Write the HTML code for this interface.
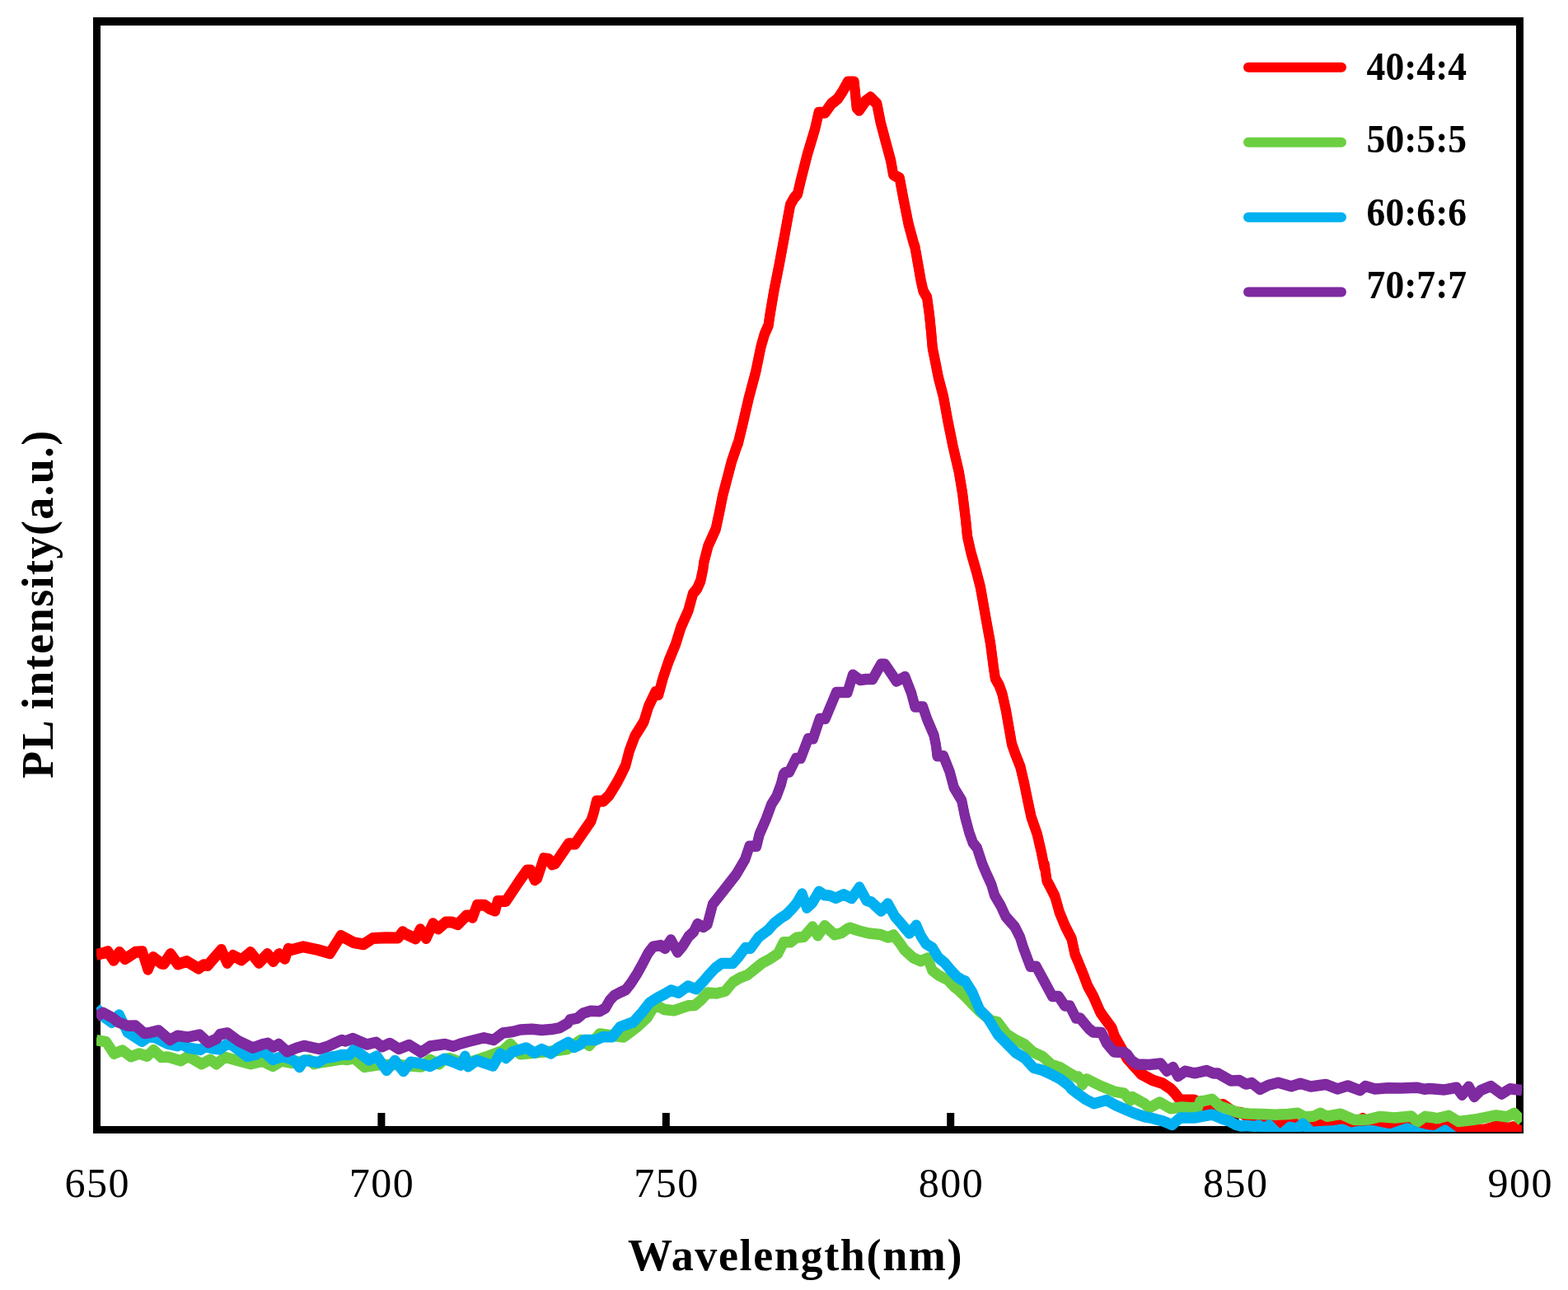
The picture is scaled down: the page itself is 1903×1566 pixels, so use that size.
<!DOCTYPE html>
<html><head><meta charset="utf-8"><style>
html,body{margin:0;padding:0;background:#fff;}
svg{display:block;}
text{font-family:"Liberation Serif","Times New Roman",serif;fill:#000;}
.tk{font-size:50px;letter-spacing:1.5px;}
.lg{font-size:48px;font-weight:bold;}
.ax{font-size:54px;font-weight:bold;letter-spacing:1.65px;}
</style></head><body>
<svg width="1903" height="1566" viewBox="0 0 1903 1566">
<defs><clipPath id="c"><rect x="117" y="0" width="1730" height="1374"/></clipPath></defs>
<rect x="113" y="21" width="1736" height="10" fill="#000"/>
<rect x="113" y="1367" width="1736" height="9" fill="#000"/>
<rect x="113" y="21" width="9" height="1355" fill="#000"/>
<rect x="1840" y="21" width="9" height="1355" fill="#000"/>
<rect x="458.4" y="1351" width="9" height="16" fill="#000"/><rect x="803.8" y="1351" width="9" height="16" fill="#000"/><rect x="1149.2" y="1351" width="9" height="16" fill="#000"/><rect x="1494.6" y="1351" width="9" height="16" fill="#000"/>
<g clip-path="url(#c)" fill="none" stroke-width="12" stroke-linejoin="round" stroke-linecap="butt">
<g stroke="#FF0000"><polyline points="117.0,1158.0 124.9,1156.2 130.9,1154.2 138.0,1164.8 144.9,1155.0 151.7,1163.0 158.0,1159.2 164.3,1154.8 172.7,1154.2 179.5,1175.8 185.8,1161.0 195.8,1168.5 199.0,1169.0 206.9,1157.1 215.8,1169.5 226.8,1166.1 241.0,1174.6 247.3,1170.2 252.0,1171.0 268.6,1151.9 275.7,1167.9 282.8,1159.0 293.0,1164.4 304.0,1155.1 314.3,1167.9 324.5,1157.1 331.6,1166.0 338.7,1157.1 345.8,1162.8 349.8,1150.8 353.9,1152.0 368.1,1148.3 385.5,1152.0 400.4,1156.3 413.8,1134.9 428.8,1143.1 441.4,1145.3 452.5,1138.0 468.2,1137.2 483.2,1137.5 488.7,1130.2 491.6,1132.6 504.6,1138.4 510.1,1127.2 517.2,1138.0 525.5,1120.2 531.8,1126.5 541.0,1118.4 548.0,1118.4 555.5,1121.2 566.0,1110.5 570.0,1110.5 573.5,1112.8 579.0,1097.7 588.0,1097.7 594.0,1101.9 601.0,1104.6 604.0,1093.0 614.0,1093.0 630.0,1069.0 639.4,1055.6 644.0,1055.6 649.0,1067.2 652.0,1065.0 660.0,1041.1 666.0,1042.0 670.0,1048.4 674.0,1047.0 690.0,1023.3 698.0,1023.5 708.0,1009.0 717.4,995.4 720.7,985.2 724.0,971.4 732.2,971.4 739.5,964.2 748.5,949.4 753.9,939.2 759.1,928.4 763.8,910.5 770.5,892.6 776.1,883.7 781.5,874.8 787.0,856.9 795.5,839.0 799.1,842.3 804.7,821.8 811.6,801.4 820.0,781.0 826.4,760.5 835.4,740.1 841.0,719.7 846.1,713.5 850.2,704.3 853.4,689.0 854.2,682.0 859.5,661.6 868.7,641.2 873.1,620.7 877.2,600.3 882.5,579.9 887.9,559.4 894.8,539.0 895.7,537.4 901.9,511.8 909.0,481.2 917.2,450.5 923.5,419.9 927.9,404.5 932.5,394.3 934.8,379.0 939.4,351.8 945.5,321.2 951.2,290.5 956.8,259.9 959.1,247.6 963.7,239.4 968.0,234.3 971.6,219.0 979.9,186.3 989.1,155.6 993.7,135.7 1001.3,135.7 1009.0,125.0 1016.7,118.9 1022.8,109.7 1029.0,98.5 1036.6,98.5 1039.7,129.6 1042.7,132.8 1050.4,121.9 1056.5,117.3 1064.2,125.0 1068.8,148.0 1074.9,171.0 1081.1,194.0 1084.1,210.8 1091.8,215.4 1096.4,240.0 1102.5,270.6 1108.7,293.6 1110.5,299.0 1114.1,319.4 1117.7,339.9 1120.5,352.1 1125.1,360.3 1127.9,380.7 1130.0,401.2 1131.8,421.6 1135.9,442.0 1138.9,457.4 1144.8,479.7 1150.4,510.3 1156.6,541.0 1163.7,571.6 1168.0,597.2 1172.0,629.7 1174.0,650.1 1178.6,670.5 1184.5,691.0 1189.8,711.4 1193.4,731.8 1197.0,752.3 1202.0,779.7 1206.0,810.3 1207.9,822.6 1212.5,830.7 1216.3,841.0 1220.9,861.4 1224.4,881.8 1228.0,902.3 1232.2,914.3 1238.3,929.7 1243.1,950.1 1247.2,970.5 1251.6,991.0 1258.7,1011.4 1263.5,1031.8 1267.6,1052.3 1267.7,1049.0 1270.5,1068.2 1274.0,1074.5 1280.4,1087.3 1285.8,1106.5 1292.6,1123.1 1300.5,1138.4 1304.7,1157.6 1308.5,1166.5 1315.2,1183.1 1320.0,1195.9 1327.0,1208.6 1335.4,1227.8 1341.7,1236.7 1349.4,1247.0 1352.7,1256.9 1368.0,1284.0 1384.9,1302.7 1398.3,1310.1 1410.8,1314.1 1420.7,1320.8 1425.1,1325.3 1432.3,1334.4 1443.0,1334.4 1449.3,1334.4 1465.0,1343.0 1484.4,1340.0 1497.0,1349.0 1506.5,1350.0 1520.0,1357.0 1535.0,1359.0 1553.8,1361.6 1570.0,1360.5 1590.0,1360.8 1602.6,1364.0 1612.0,1366.0 1624.0,1364.0 1640.0,1367.0 1654.0,1357.0 1665.0,1367.0 1680.0,1366.0 1700.0,1366.0 1718.0,1367.0 1728.7,1366.3 1740.0,1367.0 1747.2,1370.8 1756.0,1366.0 1771.5,1372.6 1789.9,1370.1 1801.0,1370.8 1811.2,1367.9 1818.6,1365.3 1830.4,1369.0 1836.2,1367.1 1847.0,1373.0"/><polyline points="117.0,1160.0 124.9,1158.2 130.9,1156.2 138.0,1166.8 144.9,1157.0 151.7,1165.0 158.0,1161.2 164.3,1156.8 172.7,1156.2 179.5,1177.8 185.8,1163.0 195.8,1170.5 199.0,1171.0 206.9,1159.1 215.8,1171.5 226.8,1168.1 241.0,1176.6 247.3,1172.2 252.0,1173.0 268.6,1153.9 275.7,1169.9 282.8,1161.0 293.0,1166.4 304.0,1157.1 314.3,1169.9 324.5,1159.1 331.6,1168.0 338.7,1159.1 345.8,1164.8 349.8,1152.8 353.9,1154.0 368.1,1150.3 385.5,1154.0 400.4,1158.3 413.8,1136.9 428.8,1145.1 441.4,1147.3 452.5,1140.0 468.2,1139.2 483.2,1139.5 488.7,1132.2 491.6,1134.6 504.6,1140.4 510.1,1129.2 517.2,1140.0 525.5,1122.2 531.8,1128.5 541.0,1120.4 548.0,1120.4 555.5,1123.2 566.0,1112.5 570.0,1112.5 573.5,1114.8 579.0,1099.7 588.0,1099.7 594.0,1103.9 601.0,1106.6 604.0,1095.0 614.0,1095.0 630.0,1071.0 639.4,1057.6 644.0,1057.6 649.0,1069.2 652.0,1067.0 660.0,1043.1 666.0,1044.0 670.0,1050.4 674.0,1049.0 690.0,1025.3 698.0,1025.5 708.0,1011.0 717.4,997.4 720.7,987.2 724.0,973.4 732.2,973.4 739.5,966.2 748.5,951.4 753.9,941.2 759.1,930.4 763.8,912.5 770.5,894.6 776.1,885.7 781.5,876.8 787.0,858.9 795.5,841.0 799.1,844.3 804.7,823.8 811.6,803.4 820.0,783.0 826.4,762.5 835.4,742.1 841.0,721.7 846.1,715.5 850.2,706.3 853.4,691.0 854.2,684.0 859.5,663.6 868.7,643.2 873.1,622.7 877.2,602.3 882.5,581.9 887.9,561.4 894.8,541.0 895.7,539.4 901.9,513.8 909.0,483.2 917.2,452.5 923.5,421.9 927.9,406.5 932.5,396.3 934.8,381.0 939.4,353.8 945.5,323.2 951.2,292.5 956.8,261.9 959.1,249.6 963.7,241.4 968.0,236.3 971.6,221.0 979.9,188.3 989.1,157.6 993.7,137.7 1001.3,137.7 1009.0,127.0 1016.7,120.9 1022.8,111.7 1029.0,100.5 1036.6,100.5 1039.7,131.6 1042.7,134.8 1050.4,123.9 1056.5,119.3 1064.2,127.0 1068.8,150.0 1074.9,173.0 1081.1,196.0 1084.1,212.8 1091.8,217.4 1096.4,242.0 1102.5,272.6 1108.7,295.6 1110.5,301.0 1114.1,321.4 1117.7,341.9 1120.5,354.1 1125.1,362.3 1127.9,382.7 1130.0,403.2 1131.8,423.6 1135.9,444.0 1138.9,459.4 1144.8,481.7 1150.4,512.3 1156.6,543.0 1163.7,573.6 1168.0,599.2 1172.0,631.7 1174.0,652.1 1178.6,672.5 1184.5,693.0 1189.8,713.4 1193.4,733.8 1197.0,754.3 1202.0,781.7 1206.0,812.3 1207.9,824.6 1212.5,832.7 1216.3,843.0 1220.9,863.4 1224.4,883.8 1228.0,904.3 1232.2,916.3 1238.3,931.7 1243.1,952.1 1247.2,972.5 1251.6,993.0 1258.7,1013.4 1263.5,1033.8 1267.6,1054.3 1267.7,1051.0 1270.5,1070.2 1274.0,1076.5 1280.4,1089.3 1285.8,1108.5 1292.6,1125.1 1300.5,1140.4 1304.7,1159.6 1308.5,1168.5 1315.2,1185.1 1320.0,1197.9 1327.0,1210.6 1335.4,1229.8 1341.7,1238.7 1349.4,1249.0 1352.7,1258.9 1368.0,1286.0 1384.9,1304.7 1398.3,1312.1 1410.8,1316.1 1420.7,1322.8 1425.1,1327.3 1432.3,1336.4 1443.0,1336.4 1449.3,1336.4 1465.0,1345.0 1484.4,1342.0 1497.0,1351.0 1506.5,1352.0 1520.0,1359.0 1535.0,1361.0 1553.8,1363.6 1570.0,1362.5 1590.0,1362.8 1602.6,1366.0 1612.0,1368.0 1624.0,1366.0 1640.0,1369.0 1654.0,1359.0 1665.0,1369.0 1680.0,1368.0 1700.0,1368.0 1718.0,1369.0 1728.7,1368.3 1740.0,1369.0 1747.2,1372.8 1756.0,1368.0 1771.5,1374.6 1789.9,1372.1 1801.0,1372.8 1811.2,1369.9 1818.6,1367.3 1830.4,1371.0 1836.2,1369.1 1847.0,1375.0"/></g>
<g stroke="#6CCF41"><polyline points="117.0,1262.0 128.8,1264.0 138.3,1278.5 148.5,1274.2 158.8,1282.0 169.0,1278.2 178.5,1281.5 186.4,1273.8 195.8,1282.8 203.7,1282.2 219.5,1287.0 227.3,1282.0 233.7,1284.5 244.7,1291.0 254.9,1285.5 262.8,1291.0 272.9,1282.5 284.7,1285.7 304.4,1291.0 318.6,1287.5 331.2,1293.7 341.4,1287.3 354.1,1289.8 375.4,1285.8 380.9,1291.0 389.5,1289.0 402.9,1287.0 414.8,1285.0 421.8,1285.7 429.7,1283.8 442.3,1294.8 458.9,1292.0 480.9,1291.5 498.3,1293.2 511.7,1294.3 521.9,1285.5 533.0,1291.2 539.3,1285.2 545.6,1283.8 560.0,1289.2 575.0,1287.2 594.3,1280.7 610.2,1274.7 619.3,1266.5 631.5,1279.0 650.0,1277.2 673.2,1275.0 689.0,1272.7 704.8,1261.8 715.2,1268.5 727.8,1254.2 756.8,1258.3 772.0,1247.0 785.8,1234.3 792.8,1222.7 797.3,1220.0 806.2,1224.8 817.9,1226.0 835.8,1220.0 842.9,1219.8 850.1,1213.8 859.0,1204.2 869.7,1205.3 880.5,1202.2 889.4,1191.5 898.3,1186.2 907.3,1182.8 916.2,1175.5 925.2,1168.2 934.2,1163.5 944.0,1157.0 951.1,1143.0 959.5,1143.0 966.5,1137.5 975.6,1136.5 986.2,1124.3 992.5,1135.0 1000.9,1123.0 1012.9,1134.0 1021.3,1131.8 1028.3,1126.8 1031.5,1125.5 1041.8,1129.0 1054.5,1132.2 1068.9,1133.7 1077.5,1137.3 1084.4,1134.2 1091.8,1143.7 1097.6,1152.2 1108.3,1162.0 1117.5,1166.0 1125.9,1162.2 1131.3,1177.0 1139.0,1183.2 1150.5,1189.0 1158.1,1197.2 1162.4,1200.3 1171.3,1208.8 1178.5,1216.5 1189.2,1227.2 1202.6,1238.0 1210.9,1240.0 1221.7,1254.5 1232.6,1261.7 1243.4,1267.0 1254.3,1276.8 1265.2,1281.7 1276.0,1291.5 1286.9,1295.2 1297.7,1301.8 1300.0,1303.2 1307.2,1307.2 1308.6,1306.2 1312.9,1312.7 1313.4,1316.3 1318.3,1309.3 1319.7,1309.5 1335.8,1317.5 1353.6,1324.8 1364.4,1326.5 1371.5,1335.3 1374.2,1330.7 1389.4,1339.3 1394.8,1344.2 1407.3,1337.3 1420.7,1345.0 1434.1,1343.3 1445.0,1344.0 1453.5,1344.0 1456.5,1336.2 1460.8,1335.8 1471.0,1333.5 1480.5,1342.2 1492.3,1346.2 1504.1,1350.2 1516.0,1351.2 1531.7,1351.7 1547.5,1352.5 1563.2,1351.8 1575.0,1350.5 1583.7,1355.2 1594.8,1354.2 1602.6,1350.5 1610.5,1354.5 1627.0,1351.5 1643.6,1358.7 1660.9,1358.2 1675.1,1354.7 1692.5,1356.2 1713.0,1354.3 1720.1,1361.2 1729.5,1354.7 1729.6,1354.8 1739.8,1356.0 1743.5,1357.0 1758.3,1353.5 1770.0,1360.8 1782.5,1359.2 1793.6,1357.7 1815.6,1353.2 1828.9,1355.0 1837.7,1350.5 1847.0,1360.0"/><polyline points="117.0,1263.5 128.8,1265.5 138.3,1280.0 148.5,1275.7 158.8,1283.5 169.0,1279.8 178.5,1283.0 186.4,1275.3 195.8,1284.3 203.7,1283.7 219.5,1288.5 227.3,1283.5 233.7,1286.0 244.7,1292.5 254.9,1287.0 262.8,1292.5 272.9,1284.0 284.7,1287.2 304.4,1292.5 318.6,1289.0 331.2,1295.2 341.4,1288.8 354.1,1291.2 375.4,1287.2 380.9,1292.5 389.5,1290.5 402.9,1288.5 414.8,1286.5 421.8,1287.2 429.7,1285.3 442.3,1296.2 458.9,1293.5 480.9,1293.0 498.3,1294.7 511.7,1295.8 521.9,1287.0 533.0,1292.7 539.3,1286.8 545.6,1285.3 560.0,1290.8 575.0,1288.8 594.3,1282.2 610.2,1276.2 619.3,1268.0 631.5,1280.5 650.0,1278.8 673.2,1276.5 689.0,1274.2 704.8,1263.2 715.2,1270.0 727.8,1255.8 756.8,1259.8 772.0,1248.5 785.8,1235.8 792.8,1224.2 797.3,1221.5 806.2,1226.3 817.9,1227.5 835.8,1221.5 842.9,1221.3 850.1,1215.3 859.0,1205.8 869.7,1206.8 880.5,1203.8 889.4,1193.0 898.3,1187.7 907.3,1184.2 916.2,1177.0 925.2,1169.8 934.2,1165.0 944.0,1158.5 951.1,1144.5 959.5,1144.5 966.5,1139.0 975.6,1138.0 986.2,1125.8 992.5,1136.5 1000.9,1124.5 1012.9,1135.5 1021.3,1133.3 1028.3,1128.3 1031.5,1127.0 1041.8,1130.5 1054.5,1133.7 1068.9,1135.2 1077.5,1138.8 1084.4,1135.7 1091.8,1145.2 1097.6,1153.8 1108.3,1163.5 1117.5,1167.5 1125.9,1163.8 1131.3,1178.5 1139.0,1184.7 1150.5,1190.5 1158.1,1198.8 1162.4,1201.8 1171.3,1210.3 1178.5,1218.0 1189.2,1228.8 1202.6,1239.5 1210.9,1241.5 1221.7,1256.0 1232.6,1263.2 1243.4,1268.5 1254.3,1278.3 1265.2,1283.2 1276.0,1293.0 1286.9,1296.8 1297.7,1303.2 1300.0,1304.7 1307.2,1308.7 1308.6,1307.7 1312.9,1314.2 1313.4,1317.8 1318.3,1310.8 1319.7,1311.0 1335.8,1319.0 1353.6,1326.2 1364.4,1328.0 1371.5,1336.8 1374.2,1332.2 1389.4,1340.8 1394.8,1345.7 1407.3,1338.8 1420.7,1346.5 1434.1,1344.8 1445.0,1345.5 1453.5,1345.5 1456.5,1337.8 1460.8,1337.2 1471.0,1335.0 1480.5,1343.7 1492.3,1347.8 1504.1,1351.8 1516.0,1352.8 1531.7,1353.2 1547.5,1354.0 1563.2,1353.3 1575.0,1352.0 1583.7,1356.8 1594.8,1355.7 1602.6,1352.0 1610.5,1356.0 1627.0,1353.0 1643.6,1360.2 1660.9,1359.8 1675.1,1356.2 1692.5,1357.8 1713.0,1355.8 1720.1,1362.8 1729.5,1356.2 1729.6,1356.3 1739.8,1357.5 1743.5,1358.5 1758.3,1355.0 1770.0,1362.2 1782.5,1360.7 1793.6,1359.2 1815.6,1354.8 1828.9,1356.5 1837.7,1352.0 1847.0,1361.5"/></g>
<g stroke="#00B0F0"><polyline points="117.0,1223.3 127.2,1234.2 135.9,1240.5 144.6,1231.2 154.8,1252.3 172.2,1263.5 180.1,1258.0 188.0,1258.8 203.7,1266.5 215.5,1269.0 219.5,1266.5 229.0,1271.3 243.1,1273.7 249.4,1269.8 258.9,1272.2 266.8,1273.0 274.5,1267.2 280.8,1267.2 300.5,1281.8 312.3,1278.8 318.6,1274.3 330.8,1285.8 342.5,1281.8 351.7,1284.2 358.0,1287.2 363.6,1294.8 369.0,1286.2 386.0,1289.0 395.0,1283.5 406.9,1281.8 414.8,1279.8 424.2,1279.8 429.7,1272.8 447.8,1286.2 457.3,1281.3 469.1,1298.7 479.4,1286.8 489.6,1299.8 498.3,1288.5 509.3,1290.0 521.9,1293.7 539.3,1284.5 550.3,1288.5 559.0,1292.3 564.5,1281.5 568.0,1294.0 578.6,1286.5 598.4,1293.2 607.0,1278.3 614.1,1283.7 622.0,1276.2 638.5,1271.2 648.8,1277.5 657.5,1272.8 668.5,1278.2 677.2,1271.2 689.8,1264.5 696.9,1270.8 704.8,1266.8 708.9,1261.8 722.8,1261.8 731.6,1258.0 743.0,1258.0 752.6,1245.8 768.7,1240.0 779.4,1228.0 788.4,1216.5 797.3,1210.8 806.2,1206.2 814.3,1201.3 823.7,1204.5 834.9,1196.2 844.7,1200.0 853.6,1190.7 860.8,1182.2 867.9,1174.5 876.0,1168.7 889.4,1168.7 896.5,1160.7 904.6,1149.8 910.9,1150.5 920.7,1137.0 929.6,1130.2 932.1,1128.5 939.1,1120.5 947.6,1113.7 954.6,1109.2 961.6,1102.0 966.5,1096.2 973.5,1084.3 979.2,1101.2 986.2,1094.8 993.9,1081.5 1000.2,1085.8 1007.2,1086.5 1014.3,1089.5 1024.1,1085.0 1025.7,1086.0 1033.8,1089.7 1043.0,1076.3 1051.6,1092.2 1057.4,1094.2 1069.4,1105.2 1077.5,1096.2 1086.1,1111.8 1091.8,1118.2 1097.6,1125.2 1103.7,1132.3 1112.1,1122.5 1117.5,1135.2 1123.6,1144.8 1131.3,1149.5 1139.0,1162.0 1146.6,1168.2 1154.3,1177.3 1162.0,1185.5 1168.1,1189.2 1171.3,1190.0 1180.2,1204.0 1189.2,1225.3 1198.1,1234.3 1202.2,1240.7 1210.9,1255.0 1221.7,1266.0 1232.6,1277.0 1243.4,1283.5 1254.3,1295.5 1265.2,1298.5 1276.0,1303.5 1286.9,1309.3 1297.7,1317.5 1300.0,1321.0 1308.9,1327.8 1317.9,1334.0 1327.7,1339.0 1342.9,1334.8 1353.6,1340.8 1362.6,1344.8 1376.0,1350.5 1389.4,1355.0 1398.3,1356.8 1411.7,1360.3 1422.5,1364.7 1432.3,1356.3 1449.3,1356.3 1471.0,1352.2 1482.8,1357.2 1490.7,1359.7 1500.2,1364.8 1507.0,1366.2 1512.0,1365.8 1523.8,1366.7 1527.8,1365.2 1533.3,1369.8 1540.4,1365.2 1553.0,1377.8 1565.6,1367.5 1573.5,1369.8 1581.4,1363.5 1592.4,1374.5 1597.0,1373.2 1619.2,1372.0 1629.4,1370.5 1638.9,1374.8 1648.3,1372.8 1664.9,1372.0 1687.0,1376.5 1708.2,1369.3 1719.3,1374.0 1731.9,1377.2 1742.0,1378.2 1754.0,1371.5 1767.0,1381.2 1790.0,1382.2 1847.0,1382.2"/><polyline points="117.0,1224.8 127.2,1235.8 135.9,1242.0 144.6,1232.8 154.8,1253.8 172.2,1265.0 180.1,1259.5 188.0,1260.2 203.7,1268.0 215.5,1270.5 219.5,1268.0 229.0,1272.8 243.1,1275.2 249.4,1271.2 258.9,1273.7 266.8,1274.5 274.5,1268.8 280.8,1268.8 300.5,1283.3 312.3,1280.2 318.6,1275.8 330.8,1287.2 342.5,1283.3 351.7,1285.8 358.0,1288.8 363.6,1296.3 369.0,1287.8 386.0,1290.5 395.0,1285.0 406.9,1283.3 414.8,1281.3 424.2,1281.2 429.7,1274.2 447.8,1287.7 457.3,1282.8 469.1,1300.2 479.4,1288.3 489.6,1301.3 498.3,1290.0 509.3,1291.5 521.9,1295.2 539.3,1286.0 550.3,1290.0 559.0,1293.8 564.5,1283.0 568.0,1295.5 578.6,1288.0 598.4,1294.7 607.0,1279.8 614.1,1285.2 622.0,1277.8 638.5,1272.7 648.8,1279.0 657.5,1274.2 668.5,1279.7 677.2,1272.8 689.8,1266.0 696.9,1272.2 704.8,1268.3 708.9,1263.2 722.8,1263.2 731.6,1259.5 743.0,1259.5 752.6,1247.2 768.7,1241.5 779.4,1229.5 788.4,1218.0 797.3,1212.2 806.2,1207.8 814.3,1202.8 823.7,1206.0 834.9,1197.7 844.7,1201.5 853.6,1192.2 860.8,1183.7 867.9,1176.0 876.0,1170.2 889.4,1170.2 896.5,1162.2 904.6,1151.2 910.9,1152.0 920.7,1138.5 929.6,1131.8 932.1,1130.0 939.1,1122.0 947.6,1115.2 954.6,1110.8 961.6,1103.5 966.5,1097.8 973.5,1085.8 979.2,1102.8 986.2,1096.3 993.9,1083.0 1000.2,1087.2 1007.2,1088.0 1014.3,1091.0 1024.1,1086.5 1025.7,1087.5 1033.8,1091.2 1043.0,1077.8 1051.6,1093.8 1057.4,1095.8 1069.4,1106.8 1077.5,1097.8 1086.1,1113.2 1091.8,1119.7 1097.6,1126.8 1103.7,1133.8 1112.1,1124.0 1117.5,1136.8 1123.6,1146.3 1131.3,1151.0 1139.0,1163.5 1146.6,1169.7 1154.3,1178.8 1162.0,1187.0 1168.1,1190.8 1171.3,1191.5 1180.2,1205.5 1189.2,1226.8 1198.1,1235.8 1202.2,1242.2 1210.9,1256.5 1221.7,1267.5 1232.6,1278.5 1243.4,1285.0 1254.3,1297.0 1265.2,1300.0 1276.0,1305.0 1286.9,1310.8 1297.7,1319.0 1300.0,1322.5 1308.9,1329.2 1317.9,1335.5 1327.7,1340.5 1342.9,1336.3 1353.6,1342.2 1362.6,1346.2 1376.0,1352.0 1389.4,1356.5 1398.3,1358.2 1411.7,1361.8 1422.5,1366.2 1432.3,1357.8 1449.3,1357.8 1471.0,1353.8 1482.8,1358.7 1490.7,1361.2 1500.2,1366.2 1507.0,1367.8 1512.0,1367.2 1523.8,1368.2 1527.8,1366.7 1533.3,1371.3 1540.4,1366.7 1553.0,1379.2 1565.6,1369.0 1573.5,1371.3 1581.4,1365.0 1592.4,1376.0 1597.0,1374.8 1619.2,1373.5 1629.4,1372.0 1638.9,1376.3 1648.3,1374.3 1664.9,1373.5 1687.0,1378.0 1708.2,1370.8 1719.3,1375.5 1731.9,1378.8 1742.0,1379.8 1754.0,1373.0 1767.0,1382.8 1790.0,1383.8 1847.0,1383.8"/></g>
<g stroke="#7F2AA0"><polyline points="117.0,1233.5 124.9,1228.5 136.7,1234.8 143.0,1240.0 154.8,1244.5 164.3,1244.2 175.3,1253.7 182.4,1252.7 192.7,1250.2 206.1,1261.8 215.5,1256.5 227.3,1258.3 242.3,1255.3 252.6,1265.0 262.8,1260.3 266.8,1255.0 276.0,1253.2 289.4,1263.0 306.8,1271.2 320.2,1266.5 324.9,1265.5 332.0,1270.2 338.3,1266.7 348.6,1276.0 359.6,1271.5 369.0,1268.7 387.2,1272.7 399.0,1269.0 406.9,1265.3 414.8,1261.8 419.5,1263.2 428.1,1259.8 445.5,1267.2 456.5,1264.5 463.6,1270.0 473.0,1265.7 484.1,1272.7 496.7,1267.7 510.9,1276.7 522.0,1269.3 540.0,1266.8 550.3,1269.5 558.2,1266.5 569.2,1263.5 587.3,1259.0 599.1,1261.8 610.2,1253.2 622.0,1251.8 631.5,1249.2 645.6,1248.5 657.5,1249.8 669.3,1248.8 679.5,1246.8 689.0,1241.3 691.8,1237.2 700.7,1235.3 707.9,1229.2 716.8,1226.5 727.6,1227.0 734.7,1223.0 740.1,1213.5 745.4,1207.8 752.6,1204.0 759.7,1200.7 766.0,1192.5 773.2,1181.2 779.4,1170.0 786.6,1156.2 792.8,1148.3 801.8,1146.8 807.2,1150.7 814.3,1140.2 822.3,1155.2 828.6,1147.7 835.8,1136.0 842.0,1130.2 846.5,1120.8 853.6,1124.8 858.6,1121.2 865.0,1097.0 874.7,1084.8 884.1,1072.8 893.5,1060.7 904.2,1042.5 909.6,1026.5 918.1,1026.5 921.7,1012.0 929.6,993.9 936.3,975.6 942.4,966.0 947.8,951.4 950.9,939.2 952.6,937.2 958.0,936.2 966.2,919.8 971.8,919.8 980.8,896.0 986.8,896.0 994.9,871.8 1001.6,871.8 1015.0,839.8 1028.6,839.8 1035.0,818.5 1044.0,824.8 1051.3,823.8 1059.0,823.8 1069.3,805.5 1074.0,805.5 1088.0,826.2 1098.3,820.8 1106.0,840.4 1110.5,857.2 1120.0,857.2 1125.1,872.2 1133.4,891.5 1136.0,904.2 1137.5,917.0 1145.0,917.0 1152.6,936.1 1157.7,955.2 1159.6,958.5 1167.2,971.1 1171.1,990.4 1176.2,1009.5 1180.7,1022.2 1185.8,1028.7 1192.1,1047.8 1197.5,1060.5 1203.3,1073.3 1207.1,1086.2 1214.5,1098.8 1220.5,1111.7 1231.7,1124.5 1238.1,1137.2 1241.8,1149.2 1250.5,1172.5 1257.6,1172.5 1277.1,1208.7 1284.7,1208.7 1292.3,1220.3 1298.3,1220.3 1305.9,1235.2 1310.8,1235.2 1321.5,1248.0 1326.8,1252.2 1336.8,1252.8 1342.9,1265.2 1348.3,1271.8 1352.0,1276.2 1364.4,1276.8 1368.0,1279.2 1373.3,1286.7 1380.0,1291.2 1394.6,1291.8 1408.6,1290.3 1416.2,1299.5 1423.8,1294.8 1429.6,1305.7 1438.6,1299.5 1449.3,1302.0 1452.9,1301.5 1464.3,1298.8 1472.6,1302.3 1478.1,1302.3 1493.9,1311.2 1504.1,1310.8 1512.0,1315.3 1519.1,1313.8 1529.3,1321.7 1539.6,1316.5 1551.4,1313.5 1567.2,1318.0 1578.2,1314.5 1590.8,1318.2 1608.9,1315.7 1623.1,1321.2 1635.7,1317.2 1650.7,1323.0 1657.0,1317.8 1668.8,1321.3 1684.6,1320.0 1700.3,1320.2 1720.1,1319.5 1728.7,1321.5 1734.7,1320.7 1738.2,1321.0 1753.1,1322.2 1767.8,1319.5 1774.4,1328.5 1782.5,1318.5 1789.2,1330.7 1797.2,1322.8 1809.4,1317.8 1822.3,1327.3 1832.6,1321.0 1847.0,1322.8"/><polyline points="117.0,1235.0 124.9,1230.0 136.7,1236.2 143.0,1241.5 154.8,1246.0 164.3,1245.8 175.3,1255.2 182.4,1254.2 192.7,1251.7 206.1,1263.3 215.5,1258.0 227.3,1259.8 242.3,1256.8 252.6,1266.5 262.8,1261.8 266.8,1256.5 276.0,1254.8 289.4,1264.5 306.8,1272.8 320.2,1268.0 324.9,1267.0 332.0,1271.8 338.3,1268.2 348.6,1277.5 359.6,1273.0 369.0,1270.2 387.2,1274.2 399.0,1270.5 406.9,1266.8 414.8,1263.3 419.5,1264.8 428.1,1261.2 445.5,1268.8 456.5,1266.0 463.6,1271.5 473.0,1267.2 484.1,1274.2 496.7,1269.2 510.9,1278.2 522.0,1270.8 540.0,1268.2 550.3,1271.0 558.2,1268.0 569.2,1265.0 587.3,1260.5 599.1,1263.2 610.2,1254.7 622.0,1253.3 631.5,1250.8 645.6,1250.0 657.5,1251.3 669.3,1250.3 679.5,1248.3 689.0,1242.8 691.8,1238.7 700.7,1236.8 707.9,1230.8 716.8,1228.0 727.6,1228.5 734.7,1224.5 740.1,1215.0 745.4,1209.2 752.6,1205.5 759.7,1202.2 766.0,1194.0 773.2,1182.8 779.4,1171.5 786.6,1157.7 792.8,1149.8 801.8,1148.3 807.2,1152.2 814.3,1141.8 822.3,1156.7 828.6,1149.2 835.8,1137.5 842.0,1131.8 846.5,1122.3 853.6,1126.2 858.6,1122.8 865.0,1098.5 874.7,1086.3 884.1,1074.2 893.5,1062.2 904.2,1044.0 909.6,1028.0 918.1,1028.0 921.7,1013.5 929.6,995.4 936.3,977.1 942.4,967.5 947.8,952.9 950.9,940.8 952.6,938.8 958.0,937.8 966.2,921.2 971.8,921.2 980.8,897.5 986.8,897.5 994.9,873.2 1001.6,873.2 1015.0,841.2 1028.6,841.2 1035.0,820.0 1044.0,826.2 1051.3,825.2 1059.0,825.2 1069.3,807.0 1074.0,807.0 1088.0,827.8 1098.3,822.2 1106.0,841.9 1110.5,858.8 1120.0,858.8 1125.1,873.8 1133.4,893.0 1136.0,905.8 1137.5,918.5 1145.0,918.5 1152.6,937.6 1157.7,956.8 1159.6,960.0 1167.2,972.6 1171.1,991.9 1176.2,1011.0 1180.7,1023.8 1185.8,1030.2 1192.1,1049.3 1197.5,1062.0 1203.3,1074.8 1207.1,1087.7 1214.5,1100.3 1220.5,1113.2 1231.7,1126.0 1238.1,1138.8 1241.8,1150.8 1250.5,1174.0 1257.6,1174.0 1277.1,1210.2 1284.7,1210.2 1292.3,1221.8 1298.3,1221.8 1305.9,1236.8 1310.8,1236.8 1321.5,1249.5 1326.8,1253.8 1336.8,1254.2 1342.9,1266.8 1348.3,1273.3 1352.0,1277.8 1364.4,1278.2 1368.0,1280.8 1373.3,1288.2 1380.0,1292.8 1394.6,1293.2 1408.6,1291.8 1416.2,1301.0 1423.8,1296.3 1429.6,1307.2 1438.6,1301.0 1449.3,1303.5 1452.9,1303.0 1464.3,1300.3 1472.6,1303.8 1478.1,1303.8 1493.9,1312.8 1504.1,1312.3 1512.0,1316.8 1519.1,1315.3 1529.3,1323.2 1539.6,1318.0 1551.4,1315.0 1567.2,1319.5 1578.2,1316.0 1590.8,1319.7 1608.9,1317.2 1623.1,1322.7 1635.7,1318.8 1650.7,1324.5 1657.0,1319.2 1668.8,1322.8 1684.6,1321.5 1700.3,1321.7 1720.1,1321.0 1728.7,1323.0 1734.7,1322.2 1738.2,1322.5 1753.1,1323.7 1767.8,1321.0 1774.4,1330.0 1782.5,1320.0 1789.2,1332.2 1797.2,1324.3 1809.4,1319.2 1822.3,1328.8 1832.6,1322.5 1847.0,1324.2"/></g>
</g>
<g class="tk"><text x="118.2" y="1452.5" text-anchor="middle">650</text><text x="463.6" y="1452.5" text-anchor="middle">700</text><text x="809.0" y="1452.5" text-anchor="middle">750</text><text x="1154.4" y="1452.5" text-anchor="middle">800</text><text x="1499.8" y="1452.5" text-anchor="middle">850</text><text x="1845.2" y="1452.5" text-anchor="middle">900</text></g>
<line x1="1515" y1="81.8" x2="1628" y2="81.8" stroke="#FF0000" stroke-width="12" stroke-linecap="round"/><text transform="translate(1658.6,96.8) scale(0.95,1)" class="lg">40:4:4</text><line x1="1515" y1="172.8" x2="1628" y2="172.8" stroke="#6CCF41" stroke-width="12" stroke-linecap="round"/><text transform="translate(1658.6,184.9) scale(0.95,1)" class="lg">50:5:5</text><line x1="1515" y1="263.8" x2="1628" y2="263.8" stroke="#00B0F0" stroke-width="12" stroke-linecap="round"/><text transform="translate(1658.6,274) scale(0.95,1)" class="lg">60:6:6</text><line x1="1515" y1="354.4" x2="1628" y2="354.4" stroke="#7F2AA0" stroke-width="12" stroke-linecap="round"/><text transform="translate(1658.6,361.5) scale(0.95,1)" class="lg">70:7:7</text>
<text class="ax" x="762" y="1541.5">Wavelength(nm)</text>
<text class="ax" style="letter-spacing:1.45px" transform="translate(63.5,945) rotate(-90)">PL intensity(a.u.)</text>
</svg>
</body></html>
